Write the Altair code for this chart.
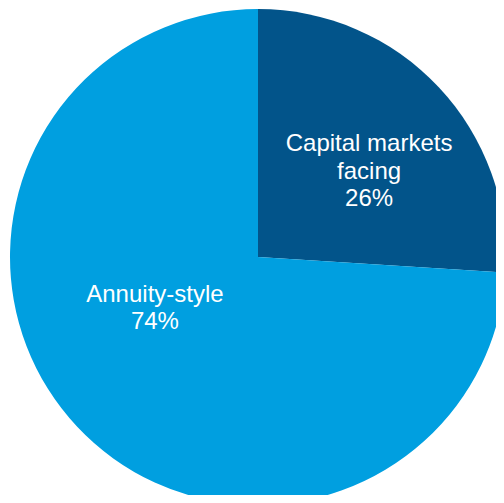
import altair as alt
import pandas as pd

categories = ["Capital markets facing", "Annuity-style"]
values = [26, 74]
labels = ["Capital markets\nfacing\n26%", "Annuity-style\n74%"]
order = [0, 1]
colors = ["#02548A", "#009FE0"]

df = pd.DataFrame({"cat": categories, "value": values, "label": labels, "ord": order})

cx, cy, R = 250, 249, 248

pie = alt.Chart(df).mark_arc(outerRadius=R, stroke=None).encode(
    theta=alt.Theta("value:Q", stack=True),
    order=alt.Order("ord:Q"),
    color=alt.Color("cat:N", scale=alt.Scale(domain=categories, range=colors), legend=None),
    x=alt.value(cx),
    y=alt.value(cy),
)

txt_common = dict(radius=140, font="Liberation Sans", fontSize=24, color="white",
                  align="center", baseline="alphabetic", lineBreak="\n", lineHeight=27.5)

tbase = alt.Chart(df).transform_window(
    cum="sum(value)", sort=[alt.SortField("ord")]
).transform_joinaggregate(
    total="sum(value)"
).transform_calculate(
    mid="(datum.cum - datum.value / 2) / datum.total * 2 * PI"
).encode(
    theta=alt.Theta("mid:Q", scale=None),
    text="label:N",
    x=alt.value(cx),
    y=alt.value(cy),
)

t1 = tbase.transform_filter(alt.datum.ord == 0).mark_text(dx=9, dy=-10, **txt_common)
t2 = tbase.transform_filter(alt.datum.ord == 1).mark_text(dx=-1, dy=-51, **txt_common)

chart = alt.layer(pie, t1, t2).properties(
    width=488, height=487, padding=0, autosize="none", background="white"
).configure_view(stroke=None, strokeWidth=0)

chart.save("out.html", embed_options={"renderer": "svg", "actions": False})
